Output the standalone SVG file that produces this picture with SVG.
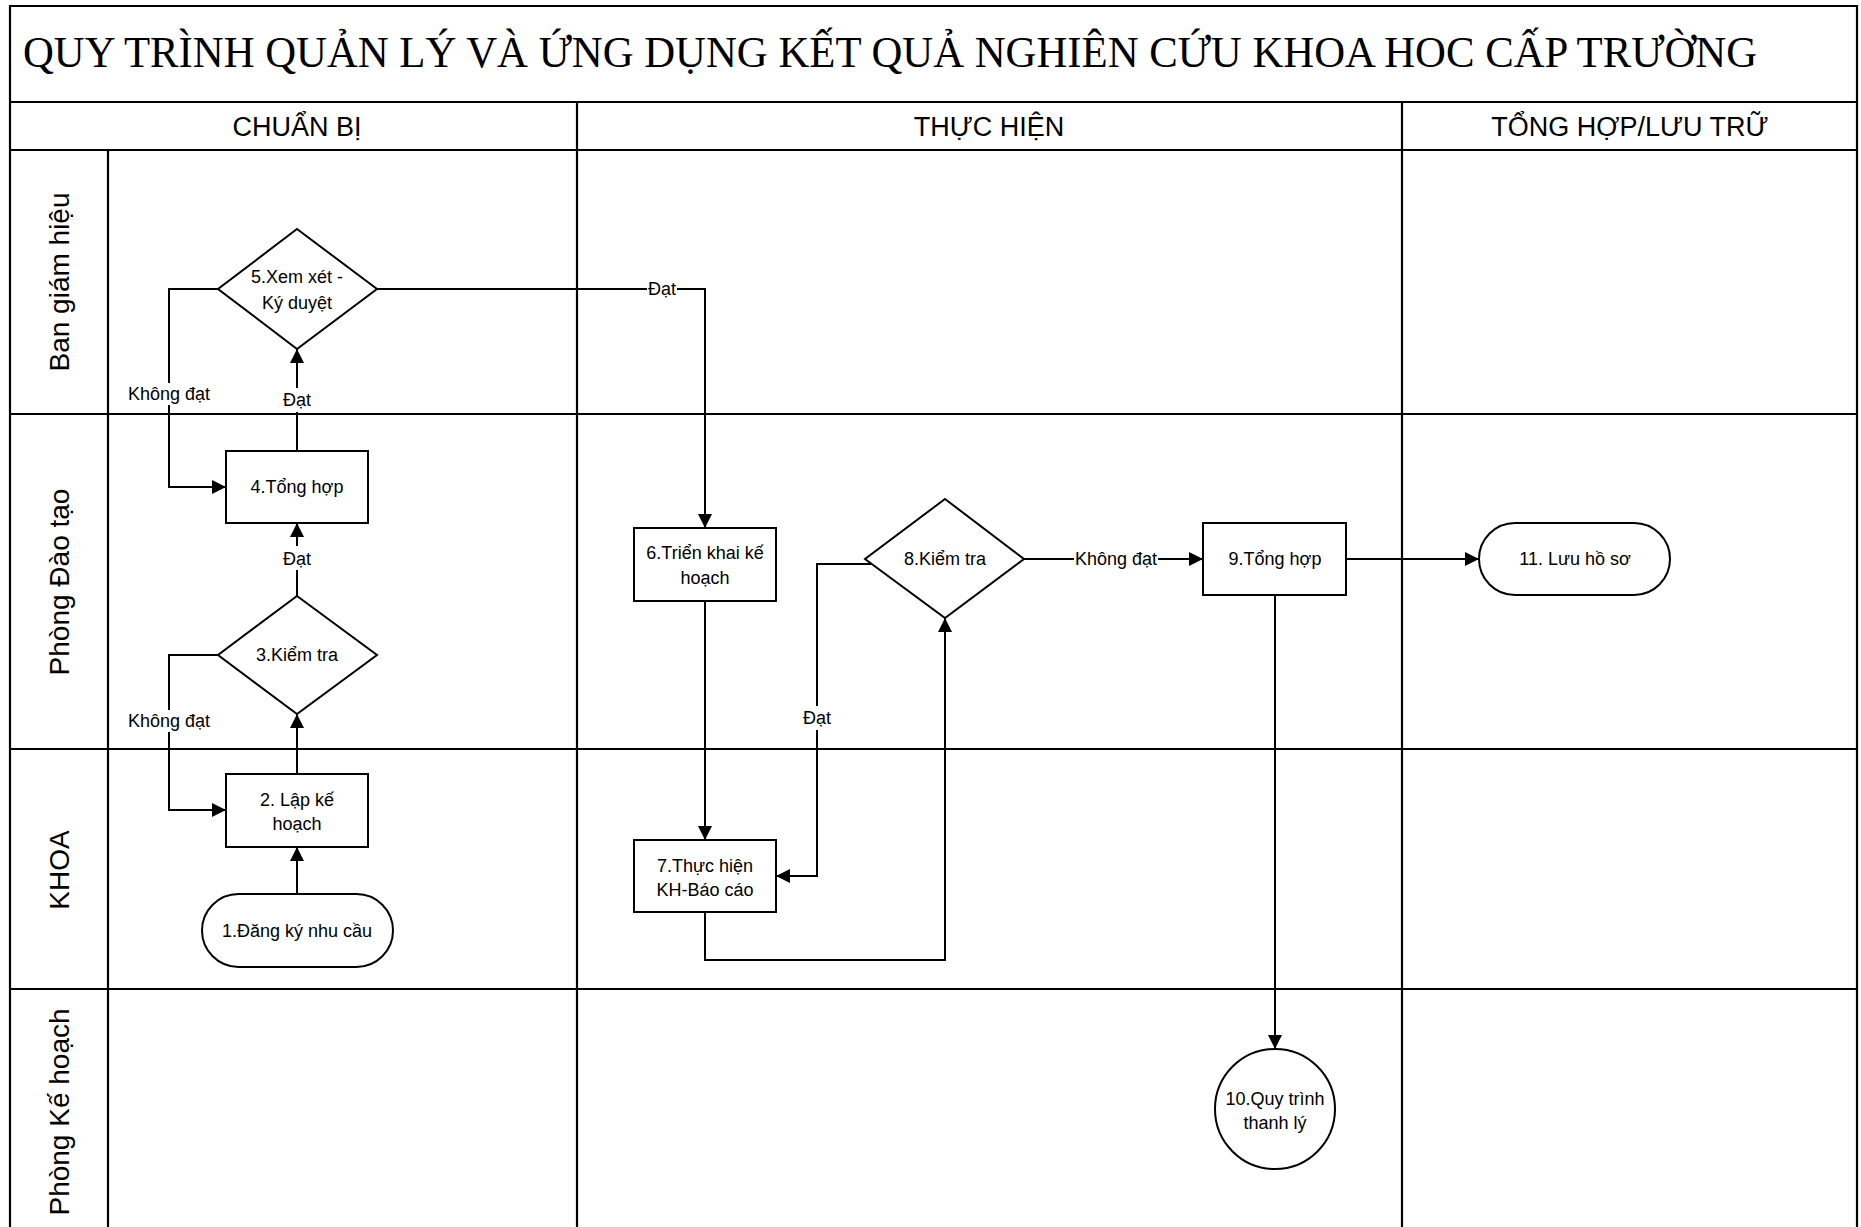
<svg xmlns="http://www.w3.org/2000/svg" width="1861" height="1227" viewBox="0 0 1861 1227">
<style>
.grid{fill:none;stroke:#000;stroke-width:2.2}
.shape{fill:#fff;stroke:#000;stroke-width:2}
.conn{fill:none;stroke:#000;stroke-width:2}
.t{font-family:"Liberation Sans",Arial,sans-serif;font-size:18px;fill:#000;text-anchor:middle}
.lbl{font-family:"Liberation Sans",Arial,sans-serif;font-size:18px;fill:#000;text-anchor:middle}
.bg{fill:#fff;stroke:none}
.hdr{font-family:"Liberation Sans",Arial,sans-serif;font-size:27px;fill:#000;text-anchor:middle}
.lane{font-family:"Liberation Sans",Arial,sans-serif;font-size:28px;fill:#000;text-anchor:middle}
.title{font-family:"Liberation Serif","Times New Roman",serif;font-size:45px;fill:#000}
</style>
<defs>
<marker id="arr" markerUnits="userSpaceOnUse" markerWidth="14" markerHeight="14" refX="14" refY="7" orient="auto">
<path d="M0,0 L14,7 L0,14 Z" fill="#000"/>
</marker>
</defs>
<rect width="1861" height="1227" fill="#fff"/>
<g id="pool">
<path class="grid" d="M10,1230 V6 H1857 V1230"/>
<line class="grid" x1="10" y1="102" x2="1857" y2="102"/>
<line class="grid" x1="10" y1="150" x2="1857" y2="150"/>
<line class="grid" x1="577" y1="102" x2="577" y2="1230"/>
<line class="grid" x1="1402" y1="102" x2="1402" y2="1230"/>
<line class="grid" x1="108" y1="150" x2="108" y2="1230"/>
<line class="grid" x1="10" y1="414" x2="1857" y2="414"/>
<line class="grid" x1="10" y1="749" x2="1857" y2="749"/>
<line class="grid" x1="10" y1="989" x2="1857" y2="989"/>
<text class="title" x="23" y="67" textLength="1734" lengthAdjust="spacingAndGlyphs">QUY TRÌNH QUẢN LÝ VÀ ỨNG DỤNG KẾT QUẢ NGHIÊN CỨU KHOA HOC CẤP TRƯỜNG</text>
<text class="hdr" x="297" y="136">CHUẨN BỊ</text>
<text class="hdr" x="989" y="136">THỰC HIỆN</text>
<text class="hdr" x="1630" y="136">TỔNG HỢP/LƯU TRỮ</text>
<text class="lane" transform="translate(69,282) rotate(-90)">Ban giám hiệu</text>
<text class="lane" transform="translate(69,582) rotate(-90)">Phòng Đào tạo</text>
<text class="lane" transform="translate(69,870) rotate(-90)">KHOA</text>
<text class="lane" transform="translate(69,1112) rotate(-90)">Phòng Kế hoạch</text>
</g>
<g id="connectors">
<path class="conn" marker-end="url(#arr)" d="M297,894 V847"/>
<path class="conn" marker-end="url(#arr)" d="M297,774 V714"/>
<path class="conn" marker-end="url(#arr)" d="M218,655 H169 V810 H226"/>
<path class="conn" marker-end="url(#arr)" d="M297,596 V523"/>
<path class="conn" marker-end="url(#arr)" d="M297,451 V349"/>
<path class="conn" marker-end="url(#arr)" d="M218,289 H169 V487 H226"/>
<path class="conn" marker-end="url(#arr)" d="M377,289 H705 V528"/>
<path class="conn" marker-end="url(#arr)" d="M705,601 V840"/>
<path class="conn" marker-end="url(#arr)" d="M705,912 V960 H945 V618"/>
<path class="conn" marker-end="url(#arr)" d="M871,564 H817 V876 H776"/>
<path class="conn" marker-end="url(#arr)" d="M1024,559 H1203"/>
<path class="conn" marker-end="url(#arr)" d="M1346,559 H1479"/>
<path class="conn" marker-end="url(#arr)" d="M1275,595 V1049"/>
<rect class="bg" x="127" y="383" width="84" height="22"/>
<text class="lbl" x="169" y="400">Không đạt</text>
<rect class="bg" x="282" y="388" width="30" height="24"/>
<text class="lbl" x="297" y="406">Đạt</text>
<rect class="bg" x="282" y="546" width="30" height="24"/>
<text class="lbl" x="297" y="565">Đạt</text>
<rect class="bg" x="127" y="710" width="84" height="22"/>
<text class="lbl" x="169" y="727">Không đạt</text>
<rect class="bg" x="647" y="278" width="30" height="22"/>
<text class="lbl" x="662" y="295">Đạt</text>
<rect class="bg" x="802" y="706" width="30" height="24"/>
<text class="lbl" x="817" y="724">Đạt</text>
<rect class="bg" x="1074" y="548" width="84" height="22"/>
<text class="lbl" x="1116" y="565">Không đạt</text>
</g>
<g id="n1">
<rect class="shape" x="202" y="894" width="191" height="73" rx="36.5" ry="36.5"/>
<text class="t" x="297" y="937">1.Đăng ký nhu cầu</text>
</g>
<g id="n2">
<rect class="shape" x="226" y="774" width="142" height="73"/>
<text class="t" x="297" y="806">2. Lập kế</text>
<text class="t" x="297" y="830">hoạch</text>
</g>
<g id="n3">
<polygon class="shape" points="297,596 377,655 297,714 218,655"/>
<text class="t" x="297" y="661">3.Kiểm tra</text>
</g>
<g id="n4">
<rect class="shape" x="226" y="451" width="142" height="72"/>
<text class="t" x="297" y="493">4.Tổng hợp</text>
</g>
<g id="n5">
<polygon class="shape" points="297,229 377,289 297,349 218,289"/>
<text class="t" x="297" y="283">5.Xem xét -</text>
<text class="t" x="297" y="309">Ký duyệt</text>
</g>
<g id="n6">
<rect class="shape" x="634" y="528" width="142" height="73"/>
<text class="t" x="705" y="559">6.Triển khai kế</text>
<text class="t" x="705" y="584">hoạch</text>
</g>
<g id="n7">
<rect class="shape" x="634" y="840" width="142" height="72"/>
<text class="t" x="705" y="872">7.Thực hiện</text>
<text class="t" x="705" y="896">KH-Báo cáo</text>
</g>
<g id="n8">
<polygon class="shape" points="945,499 1024,559 945,618 865,559"/>
<text class="t" x="945" y="565">8.Kiểm tra</text>
</g>
<g id="n9">
<rect class="shape" x="1203" y="523" width="143" height="72"/>
<text class="t" x="1275" y="565">9.Tổng hợp</text>
</g>
<g id="n10">
<circle class="shape" cx="1275" cy="1109" r="60"/>
<text class="t" x="1275" y="1105">10.Quy trình</text>
<text class="t" x="1275" y="1129">thanh lý</text>
</g>
<g id="n11">
<rect class="shape" x="1479" y="523" width="191" height="72" rx="36" ry="36"/>
<text class="t" x="1575" y="565">11. Lưu hồ sơ</text>
</g>
</svg>
